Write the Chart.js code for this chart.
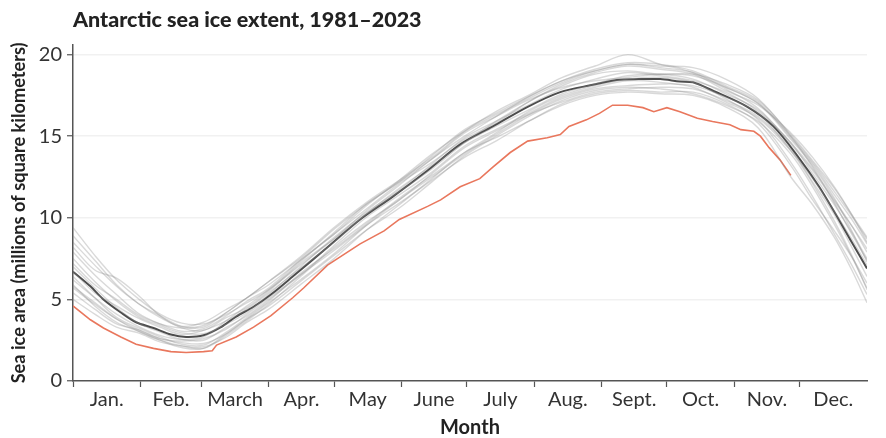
<!DOCTYPE html>
<html>
<head>
<meta charset="utf-8">
<script src="https://cdn.jsdelivr.net/npm/chart.js@4"></script>
<style>
  html, body { margin: 0; padding: 0; background: #ffffff; }
  canvas { display: block; }
</style>
</head>
<body>
<canvas id="c" width="886" height="438"></canvas>
<script>
// ---- Data (day of year on x, millions of km² on y) ----
const monthLabels = ["Jan.", "Feb.", "March", "Apr.", "May", "June", "July", "Aug.", "Sept.", "Oct.", "Nov.", "Dec."];
const monthStarts = [0, 31, 59, 90, 120, 151, 181, 212, 243, 273, 304, 334];
const monthMids = [15.5, 45, 74.5, 105, 135.5, 166, 196.5, 227.5, 258, 288.5, 319, 349.5];
const yTicks = [0, 5, 10, 15, 20];

// Mean of 1981–2022
const meanDays = [0, 8, 14, 22, 29, 37, 45, 52, 60, 68, 75, 83, 91, 101, 117, 132, 147, 163, 178, 193, 209, 224, 239, 250, 260, 270, 279, 285, 294, 310, 322, 333, 343, 352, 358, 365];
const meanVals = [6.7, 5.8, 5.0, 4.2, 3.6, 3.25, 2.85, 2.7, 2.8, 3.3, 3.95, 4.55, 5.3, 6.4, 8.2, 9.9, 11.3, 12.9, 14.5, 15.6, 16.8, 17.7, 18.15, 18.45, 18.5, 18.5, 18.35, 18.3, 17.8, 16.8, 15.6, 13.8, 11.9, 9.9, 8.5, 6.9];

// 2023
const days2023 = [0, 8, 14, 22, 29, 37, 45, 52, 60, 64, 66, 75, 83, 91, 101, 106, 117, 132, 143, 150, 163, 169, 178, 187, 193, 201, 209, 218, 224, 228, 236, 242, 248, 255, 262, 267, 273, 279, 287, 294, 302, 307, 313, 316, 320, 325, 330];
const vals2023 = [4.6, 3.75, 3.25, 2.7, 2.25, 2.0, 1.8, 1.75, 1.8, 1.85, 2.2, 2.7, 3.3, 4.0, 5.1, 5.7, 7.1, 8.4, 9.2, 9.9, 10.7, 11.1, 11.9, 12.4, 13.1, 14.0, 14.7, 14.9, 15.1, 15.6, 16.0, 16.4, 16.9, 16.9, 16.75, 16.5, 16.75, 16.5, 16.1, 15.9, 15.7, 15.4, 15.3, 15.0, 14.3, 13.55, 12.6];

// Individual years (grey), sampled on common days
const yearDays = [0, 10, 20, 30, 40, 50, 60, 70, 80, 90, 105, 120, 135, 150, 165, 180, 195, 210, 225, 240, 255, 270, 285, 300, 315, 330, 340, 350, 358, 365];
const yearA = [9.4, 7.7, 6.2, 5.05, 4.1, 3.55, 3.5, 4.05, 4.8, 5.6, 7.15, 8.7, 10.45, 12.0, 13.6, 15.0, 16.25, 17.45, 18.4, 19.0, 19.4, 19.2, 18.9, 18.0, 17.0, 15.0, 13.4, 11.6, 10.1, 8.7];
const yearB = [8.5, 7.1, 5.8, 4.75, 4.0, 3.35, 3.3, 4.15, 5.1, 6.1, 7.65, 9.4, 10.95, 12.3, 13.7, 15.3, 16.55, 17.55, 18.6, 19.3, 20.0, 19.4, 18.9, 17.9, 16.7, 14.5, 12.9, 11.0, 9.5, 8.1];
const yearC = [7.9, 6.5, 5.3, 4.15, 3.5, 3.05, 3.2, 3.95, 4.9, 5.7, 7.45, 9.0, 10.55, 12.1, 13.4, 14.8, 15.85, 17.15, 18.1, 18.8, 19.0, 18.8, 18.8, 18.2, 17.2, 15.1, 13.5, 11.8, 10.2, 8.8];
const yearD = [7.5, 6.1, 4.9, 3.95, 3.4, 2.95, 2.9, 3.45, 4.2, 5.3, 7.05, 8.8, 10.35, 11.7, 13.3, 14.9, 15.95, 16.95, 17.9, 18.5, 18.9, 18.7, 18.4, 17.7, 16.5, 14.6, 12.7, 10.8, 9.1, 7.5];
const yearE = [6.2, 5.1, 4.1, 3.35, 2.8, 2.55, 2.7, 3.65, 4.6, 5.6, 7.35, 9.1, 10.85, 12.2, 13.6, 15.2, 16.25, 17.25, 18.0, 18.4, 18.6, 18.8, 18.7, 18.0, 17.0, 14.8, 13.2, 11.2, 9.2, 7.3];
const yearF = [5.7, 4.7, 3.8, 3.15, 2.6, 2.35, 2.3, 2.85, 3.8, 4.6, 6.15, 7.7, 9.25, 10.6, 12.2, 13.8, 15.05, 16.25, 17.2, 17.8, 18.0, 17.9, 17.6, 16.9, 15.9, 13.9, 11.9, 9.6, 7.6, 5.7];
const yearG = [5.0, 4.1, 3.3, 2.95, 2.4, 2.15, 2.1, 2.65, 3.6, 4.4, 5.95, 7.5, 9.25, 10.8, 12.4, 14.0, 14.95, 15.95, 16.9, 17.5, 17.7, 17.6, 17.5, 16.8, 15.5, 12.5, 10.8, 8.8, 6.8, 4.8];
const yearH = [7.0, 5.7, 4.5, 3.55, 3.0, 2.55, 2.5, 3.25, 4.0, 5.0, 6.55, 8.3, 10.05, 11.4, 12.8, 14.4, 15.45, 16.45, 17.4, 18.0, 18.4, 18.3, 18.0, 17.1, 16.1, 14.1, 12.4, 10.4, 8.7, 7.1];
const yearI = [7.2, 5.9, 5.0, 4.05, 3.5, 3.25, 3.4, 4.15, 5.1, 5.9, 7.45, 9.0, 10.75, 12.3, 13.9, 15.3, 16.35, 17.35, 18.3, 19.0, 19.4, 19.3, 19.2, 18.5, 17.3, 15.0, 13.1, 10.9, 9.0, 7.4];
const yearJ = [6.4, 5.1, 3.9, 3.25, 2.7, 2.25, 2.2, 2.95, 3.9, 4.9, 6.65, 8.1, 9.65, 11.2, 12.6, 14.0, 15.25, 16.55, 17.5, 18.1, 18.5, 18.6, 18.3, 17.3, 16.0, 13.4, 11.3, 9.0, 7.1, 5.3];
const yearK = [8.2, 6.8, 6.3, 5.25, 4.0, 3.25, 3.1, 3.85, 4.5, 5.5, 7.25, 8.7, 10.25, 11.6, 13.0, 14.6, 15.95, 17.15, 18.2, 18.9, 19.3, 19.1, 18.8, 17.8, 16.9, 15.2, 13.7, 11.9, 10.2, 8.5];
const yearL = [5.9, 4.6, 3.6, 3.05, 2.5, 2.15, 2.0, 2.75, 3.7, 4.7, 6.45, 8.2, 9.75, 11.1, 12.7, 14.3, 15.35, 16.35, 17.1, 17.7, 17.9, 18.0, 17.9, 17.2, 16.2, 14.2, 12.2, 10.2, 8.2, 6.4];
const yearM = [8.9, 7.4, 5.9, 4.75, 3.9, 3.35, 3.6, 4.35, 5.1, 6.1, 7.55, 9.3, 10.85, 12.2, 13.8, 15.4, 16.45, 17.45, 18.4, 19.1, 19.5, 19.4, 19.0, 18.1, 17.1, 14.9, 13.3, 11.4, 9.9, 8.4];
const yearN = [6.7, 5.4, 4.6, 3.85, 3.3, 2.85, 3.1, 3.65, 4.4, 5.4, 6.95, 8.5, 10.25, 11.8, 13.2, 14.6, 15.65, 16.65, 17.6, 18.2, 18.7, 18.8, 18.5, 17.6, 16.6, 14.6, 13.0, 11.1, 9.5, 7.9];
const yearO = [5.4, 4.4, 3.5, 3.15, 2.6, 2.45, 2.6, 3.15, 4.1, 5.1, 6.55, 8.0, 9.55, 10.9, 12.3, 13.7, 14.75, 15.95, 17.0, 17.6, 17.8, 17.7, 17.7, 17.0, 15.8, 13.2, 11.1, 9.2, 7.6, 6.0];
const yearP = [5.8, 4.8, 3.8, 3.05, 2.5, 2.05, 2.0, 2.85, 3.8, 4.8, 6.25, 7.8, 9.55, 11.1, 12.5, 13.9, 15.15, 16.35, 17.3, 17.9, 18.1, 18.2, 18.1, 17.4, 16.4, 14.1, 12.1, 9.8, 7.7, 5.6];
const greyYears = [yearA, yearB, yearC, yearD, yearE, yearF, yearG, yearH, yearI, yearJ, yearK, yearL, yearM, yearN, yearO, yearP];

// ---- Build datasets ----
const toPts = (xs, ys) => xs.map((x, i) => ({ x: x, y: ys[i] }));

const datasets = greyYears.map(vals => ({
  data: toPts(yearDays, vals),
  borderColor: 'rgba(140,140,140,0.33)',
  borderWidth: 1.4,
  pointRadius: 0,
  tension: 0.35,
  fill: false
}));
datasets.push({
  data: toPts(meanDays, meanVals),
  borderColor: '#4d4d4d',
  borderWidth: 2,
  pointRadius: 0,
  tension: 0.3,
  fill: false
});
datasets.push({
  data: toPts(days2023, vals2023),
  borderColor: '#e9775d',
  borderWidth: 1.6,
  pointRadius: 0,
  tension: 0,
  fill: false
});

const FONT = "Lato, 'Open Sans', sans-serif";
const boundarySet = new Set(monthStarts);

new Chart(document.getElementById('c'), {
  type: 'line',
  data: { datasets: datasets },
  options: {
    responsive: false,
    animation: false,
    devicePixelRatio: 1,
    layout: { padding: { left: 0, right: 19, top: 0, bottom: 0 } },
    plugins: {
      legend: { display: false },
      tooltip: { enabled: false },
      title: {
        display: true,
        text: 'Antarctic sea ice extent, 1981–2023',
        align: 'start',
        fullSize: false,
        color: '#222222',
        font: { family: FONT, size: 21.5, weight: '900', lineHeight: 1.2 },
        padding: { top: 7, bottom: 12 }
      }
    },
    scales: {
      x: {
        type: 'linear',
        min: 0,
        max: 365,
        afterBuildTicks: (scale) => {
          const t = [];
          monthStarts.forEach(v => t.push({ value: v }));
          monthMids.forEach(v => t.push({ value: v }));
          t.sort((a, b) => a.value - b.value);
          scale.ticks = t;
        },
        afterFit: (scale) => { scale.height = 57; },
        ticks: {
          autoSkip: false,
          maxRotation: 0,
          color: '#333333',
          font: { family: FONT, size: 20 },
          padding: 1,
          callback: (value) => {
            const i = monthMids.indexOf(value);
            return i >= 0 ? monthLabels[i] : '';
          }
        },
        grid: {
          drawOnChartArea: false,
          drawTicks: true,
          tickLength: 6,
          tickWidth: 1.2,
          tickColor: (ctx) => (ctx.tick && boundarySet.has(ctx.tick.value)) ? '#555555' : 'rgba(0,0,0,0)'
        },
        border: { display: true, color: '#555555', width: 1.5 },
        title: {
          display: true,
          text: 'Month',
          color: '#222222',
          font: { family: FONT, size: 20, weight: 'bold', lineHeight: 1 },
          padding: { top: 0, bottom: 0 }
        }
      },
      y: {
        type: 'linear',
        min: 0,
        max: 20.6,
        afterBuildTicks: (scale) => {
          scale.ticks = yTicks.map(v => ({ value: v }));
        },
        afterFit: (scale) => { scale.width = 73; },
        ticks: {
          color: '#333333',
          font: { family: FONT, size: 20 },
          padding: 5
        },
        grid: {
          color: (ctx) => (ctx.tick && ctx.tick.value === 0) ? 'rgba(0,0,0,0)' : '#f1f1f1',
          lineWidth: 1.5,
          drawTicks: true,
          tickLength: 6,
          tickWidth: 1.2,
          tickColor: '#555555'
        },
        border: { display: true, color: '#555555', width: 1.5 },
        title: {
          display: true,
          text: 'Sea ice area (millions of square kilometers)',
          color: '#222222',
          font: { family: FONT, size: 18.2, weight: 'bold', lineHeight: 1.2 },
          padding: { top: 8, bottom: 0 }
        }
      }
    }
  }
});
</script>
</body>
</html>
